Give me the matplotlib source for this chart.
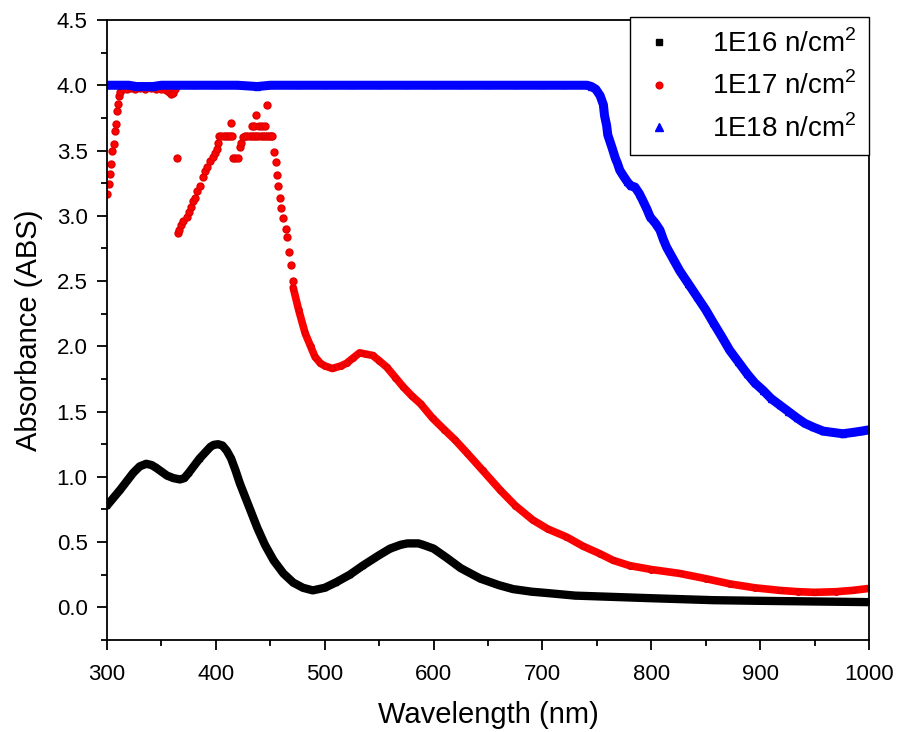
import numpy as np
import matplotlib
matplotlib.use('Agg')
import matplotlib.pyplot as plt
from matplotlib.ticker import MultipleLocator

plt.rcParams['font.family'] = ['Liberation Sans', 'DejaVu Sans']
plt.rcParams['mathtext.fontset'] = 'custom'
plt.rcParams['mathtext.rm'] = 'Liberation Sans'

# 1E16 n/cm2
wl_16 = [300, 312, 324, 330, 336, 341, 345, 355, 361, 367, 371, 375, 385, 395,
         398, 402, 406, 410, 414, 418, 422, 430, 438, 445, 453, 462, 471, 480,
         489, 500, 510, 523, 535, 550, 560, 570, 576, 581, 586, 590, 600, 612,
         625, 643, 660, 673, 690, 704, 730, 765, 800, 857, 900, 950, 1000]
abs_16 = [0.78, 0.90, 1.03, 1.08, 1.10, 1.09, 1.07, 1.01, 0.99, 0.98, 0.99, 1.03,
          1.14, 1.23, 1.245, 1.25, 1.24, 1.20, 1.14, 1.05, 0.95, 0.78, 0.61, 0.48,
          0.36, 0.26, 0.19, 0.15, 0.13, 0.15, 0.19, 0.25, 0.32, 0.40, 0.45, 0.48,
          0.49, 0.49, 0.49, 0.48, 0.45, 0.38, 0.30, 0.22, 0.17, 0.14, 0.12, 0.11,
          0.09, 0.08, 0.07, 0.055, 0.05, 0.045, 0.04]

# 1E17 n/cm2, saturated / noisy part (scattered points)
wl_17a = [300, 302, 303, 304, 305, 306, 307, 308, 309, 310, 311, 312, 315, 318,
          322, 326, 330, 335, 340, 345, 350, 354, 357, 359, 361, 362, 364,
          365, 366, 368, 370, 373, 375, 377, 379, 381, 383, 385, 388, 390, 392,
          395, 397, 399, 401, 402, 403, 405, 407, 409, 411, 413, 414, 415, 416,
          418, 420, 422, 423, 425, 427, 429, 431, 433, 433, 435, 435, 437, 437,
          439, 440, 441, 442, 443, 445, 445, 447, 447, 449, 451, 452,
          453, 455, 456, 457, 459, 460, 462, 464, 465, 467, 469, 471]
abs_17a = [3.17, 3.24, 3.32, 3.40, 3.50, 3.55, 3.65, 3.70, 3.80, 3.86, 3.92, 3.95,
           3.97, 3.97, 3.98, 3.97, 3.98, 3.97, 3.98, 3.97, 3.97, 3.96, 3.95, 3.93,
           3.94, 3.97, 3.44,
           2.87, 2.89, 2.93, 2.96, 2.99, 3.03, 3.07, 3.11, 3.14, 3.19, 3.23, 3.30,
           3.34, 3.37, 3.42, 3.45, 3.48, 3.51, 3.56, 3.61, 3.61, 3.61, 3.61, 3.61,
           3.61, 3.71, 3.61, 3.44, 3.44, 3.44, 3.53, 3.56, 3.60, 3.61, 3.61, 3.61,
           3.61, 3.69, 3.61, 3.69, 3.61, 3.77, 3.61, 3.69, 3.61, 3.69, 3.61, 3.61,
           3.69, 3.61, 3.85, 3.61, 3.61, 3.61,
           3.49, 3.41, 3.31, 3.23, 3.14, 3.06, 2.98, 2.90, 2.84, 2.72, 2.62, 2.50]

# 1E17 n/cm2, smooth part
wl_17b = [471, 476, 482, 487, 491, 496, 500, 507, 515, 520, 526, 532, 538, 544,
          550, 557, 565, 572, 580, 588, 599, 610, 620, 631, 645, 661, 675, 691,
          705, 722, 737, 753, 765, 780, 800, 826, 850, 872, 895, 918, 935, 950,
          970, 985, 1000]
abs_17b = [2.45, 2.28, 2.10, 2.00, 1.92, 1.87, 1.85, 1.83, 1.85, 1.87, 1.91, 1.95,
           1.94, 1.93, 1.89, 1.84, 1.76, 1.69, 1.62, 1.56, 1.45, 1.36, 1.28, 1.18,
           1.05, 0.90, 0.78, 0.67, 0.60, 0.54, 0.47, 0.41, 0.36, 0.32, 0.29, 0.26,
           0.22, 0.18, 0.15, 0.13, 0.12, 0.115, 0.12, 0.13, 0.145]

# 1E18 n/cm2
wl_18 = [300, 310, 320, 327, 335, 342, 350, 365, 380, 400, 420, 438, 450, 475,
         500, 525, 550, 575, 600, 625, 650, 675, 700, 720, 741, 745, 749, 753,
         756, 757, 759, 760, 762, 764, 767, 769, 771, 774, 778, 781, 785, 789,
         792, 796, 799, 804, 808, 811, 814, 820, 826, 834, 842, 850, 857, 865,
         872, 880, 888, 895, 903, 910, 918, 926, 934, 941, 949, 958, 967, 976,
         985, 993, 1000]
abs_18 = [4.00, 4.00, 4.00, 3.99, 3.99, 3.99, 4.00, 4.00, 4.00, 4.00, 4.00, 3.99,
          4.00, 4.00, 4.00, 4.00, 4.00, 4.00, 4.00, 4.00, 4.00, 4.00, 4.00, 4.00,
          4.00, 3.99, 3.97, 3.92, 3.85, 3.77, 3.69, 3.62, 3.57, 3.52, 3.44, 3.40,
          3.35, 3.31, 3.26, 3.23, 3.22, 3.17, 3.12, 3.05, 2.99, 2.94, 2.89, 2.82,
          2.76, 2.67, 2.58, 2.48, 2.38, 2.28, 2.18, 2.07, 1.97, 1.88, 1.79, 1.72,
          1.66, 1.60, 1.55, 1.50, 1.45, 1.41, 1.38, 1.35, 1.34, 1.33, 1.34, 1.35,
          1.36]

labels = [r'1E16 n/cm$^\mathrm{2}$', r'1E17 n/cm$^\mathrm{2}$', r'1E18 n/cm$^\mathrm{2}$']

fig = plt.figure(figsize=(8.98, 7.32), dpi=100)
ax = fig.add_axes([0.1192, 0.1257, 0.8485, 0.847])

# black
ax.plot(wl_16, abs_16, color='black', lw=6, solid_joinstyle='round', solid_capstyle='round')
ax.plot(wl_16, abs_16, 's', color='black', ms=3.5, ls='none', label=labels[0])

# red
ax.plot(wl_17a, abs_17a, 'o', color='#ff0000', mec='#e00000', ms=5, ls='none')
ax.plot(wl_17b, abs_17b, color='#ff0000', lw=5.5, solid_joinstyle='round', solid_capstyle='round')
ax.plot(wl_17b, abs_17b, 'o', color='#ff0000', mec='#e00000', ms=4, ls='none', label=labels[1])

# blue
ax.plot(wl_18, abs_18, color='#0000ff', lw=6.5, solid_joinstyle='round', solid_capstyle='round')
ax.plot(wl_18, abs_18, '^', color='#0000ff', ms=5, ls='none', label=labels[2])

ax.set_xlim(300, 1000)
ax.set_ylim(-0.25, 4.5)
ax.xaxis.set_major_locator(MultipleLocator(100))
ax.xaxis.set_minor_locator(MultipleLocator(50))
ax.yaxis.set_major_locator(MultipleLocator(0.5))
ax.yaxis.set_minor_locator(MultipleLocator(0.25))
ax.tick_params(which='both', direction='out', top=False, right=False, width=1.3, labelsize=16)
ax.tick_params(which='major', length=7)
ax.tick_params(which='minor', length=4)
ax.tick_params(axis='x', which='major', pad=10)
ax.tick_params(axis='y', which='major', pad=7)
for s in ax.spines.values():
    s.set_linewidth(1.3)

ax.set_xlabel('Wavelength (nm)', fontsize=21, labelpad=12)
ax.set_ylabel('Absorbance (ABS)', fontsize=21, labelpad=10)

leg = ax.legend(loc='upper right', bbox_to_anchor=(1.0, 1.005), borderaxespad=0,
                fontsize=20, frameon=True, fancybox=False, framealpha=1,
                edgecolor='black', handlelength=1.2, handletextpad=1.3,
                labelspacing=0.5, borderpad=0.45, markerscale=1.2)
leg.get_frame().set_linewidth(1.0)

plt.savefig('out.png', dpi=100)
